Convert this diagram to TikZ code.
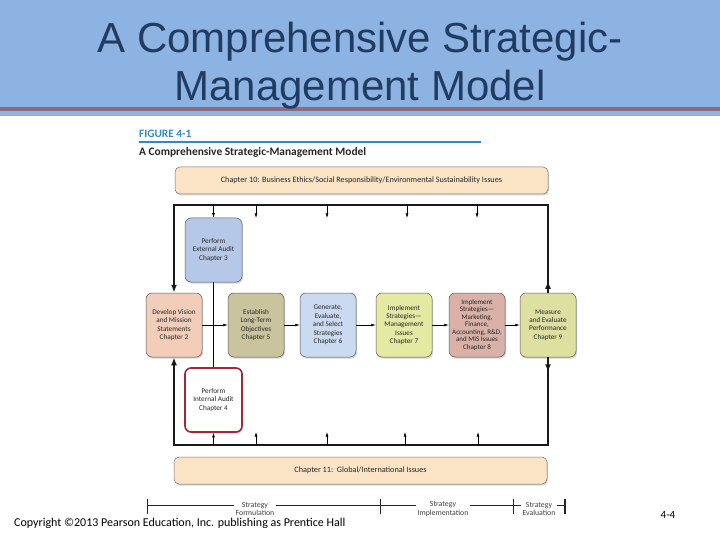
\documentclass[tikz,border=0pt]{standalone}
\usepackage{fontspec}
\setmainfont{Carlito}
\newfontfamily\titlefont{Liberation Sans}
\usetikzlibrary{arrows.meta,shadows}
\definecolor{hdrblue}{HTML}{8DB3E2}
\definecolor{mauve}{HTML}{8E6B80}
\definecolor{titleblue}{HTML}{203C62}
\definecolor{figblue}{HTML}{2F8AC4}
\definecolor{peach}{HTML}{FBE3C6}
\definecolor{cext}{HTML}{B6C8E8}
\definecolor{cvis}{HTML}{F2CDBA}
\definecolor{cobj}{HTML}{C9C49E}
\definecolor{cgen}{HTML}{C9DAF1}
\definecolor{cimg}{HTML}{E5EAA3}
\definecolor{cimk}{HTML}{D9B1A7}
\definecolor{cmea}{HTML}{DDE0A1}
\definecolor{cint}{HTML}{A3253C}
\tikzset{
  box/.style={draw=black!65, line width=0.5pt, rounded corners=6pt,
    minimum width=56pt, minimum height=64pt, inner sep=1pt, align=center,
    font=\fontsize{7.2}{8.4}\selectfont, text=black!85,
    drop shadow={shadow xshift=1pt, shadow yshift=-1.5pt, opacity=0.35}},
  bar/.style={draw=black!55, line width=0.5pt, rounded corners=5pt, fill=peach,
    minimum width=373pt, minimum height=27pt, font=\fontsize{8.2}{9}\selectfont,
    text=black!85, drop shadow={shadow xshift=1pt, shadow yshift=-1.5pt, opacity=0.35}},
  loopline/.style={line width=2pt, black!90},
  bigtip/.style={-{Latex[length=8pt,width=6pt]}},
  thinarrow/.style={line width=0.6pt, -{Latex[length=4.5pt,width=2.8pt]}},
  flowarrow/.style={line width=0.7pt, -{Latex[length=4.5pt,width=3pt]}},
  phase/.style={fill=white, inner sep=1.5pt, align=center, text=black!75,
    font=\fontsize{7.8}{8.4}\selectfont},
}
\begin{document}
\begin{tikzpicture}[x=1pt,y=-1pt]
\useasboundingbox (0,0) rectangle (720,540);
% header
\fill[hdrblue] (0,0) rectangle (720,116);
\fill[mauve] (0,107) rectangle (720,111);
\node[anchor=base, font=\titlefont\fontsize{42}{42}\selectfont, text=titleblue] (t1) at (360,53) {A Comprehensive Strategic-};
\node[anchor=base, font=\titlefont\fontsize{42}{42}\selectfont, text=titleblue] (t2) at (360,101) {Management Model};
% figure caption
\node[anchor=base west, inner sep=0, font=\bfseries\fontsize{11.3}{12}\selectfont, text=figblue] (fig) at (139,137.5) {FIGURE 4-1};
\fill[figblue] (139,141) rectangle (481,143.5);
\node[anchor=base west, inner sep=0, font=\bfseries\fontsize{11.4}{12}\selectfont, text=black!85] (cap) at (139,156) {A Comprehensive Strategic-Management Model};
% bars
\node[bar] (ch10) at (361.5,180.5) {Chapter 10: Business Ethics/Social Responsibility/Environmental Sustainability Issues};
\node[bar] (ch11) at (360.5,470.5) {Chapter 11:\ \ Global/International Issues};
% boxes
\node[box, fill=cext, minimum width=57pt] (ext) at (213.5,250) {Perform\\External Audit\\Chapter 3};
\node[box, fill=cvis] (vis) at (174,325) {Develop Vision\\and Mission\\Statements\\Chapter 2};
\node[box, fill=cobj] (obj) at (256,325) {Establish\\Long-Term\\Objectives\\Chapter 5};
\node[box, fill=cgen] (gen) at (328,325) {Generate,\\Evaluate,\\and Select\\Strategies\\Chapter 6};
\node[box, fill=cimg] (img) at (404,325) {Implement\\Strategies---\\Management\\Issues\\Chapter 7};
\node[box, fill=cimk, inner sep=0pt, font=\fontsize{7}{7.5}\selectfont] (imk) at (477,325) {Implement\\Strategies---\\Marketing,\\Finance,\\Accounting, R\&D,\\and MIS Issues\\Chapter 8};
\node[box, fill=cmea] (mea) at (548,325) {Measure\\and Evaluate\\Performance\\Chapter 9};
\node[box, fill=white, draw=cint, line width=1.6pt, minimum width=57pt] (int) at (213.5,400) {Perform\\Internal Audit\\Chapter 4};
% loop corners
\coordinate (tr) at (548,205);
\coordinate (tl) at (174,205);
\coordinate (br) at (548,445);
\coordinate (bl) at (174,445);
\draw[loopline, bigtip] (mea.north) -- (tr) -- (tl) -- (vis.north);
\draw[loopline, bigtip] (mea.north) -- ([yshift=12pt]mea.north);
\draw[loopline, bigtip] (mea.south) -- (br) -- (bl) -- (vis.south);
\draw[loopline, bigtip] (mea.south) -- ([yshift=-15pt]mea.south);
% small arrows from top line
\coordinate (a1) at (256,205); \coordinate (a1e) at (256,218);
\coordinate (a2) at (327,205); \coordinate (a2e) at (327,218);
\coordinate (a3) at (407,205); \coordinate (a3e) at (407,218);
\coordinate (a4) at (477,205); \coordinate (a4e) at (477,218);
\coordinate (a0) at (213.5,205);
\draw[thinarrow] (a0) -- (ext.north);
\draw[thinarrow] (a1) -- (a1e);
\draw[thinarrow] (a2) -- (a2e);
\draw[thinarrow] (a3) -- (a3e);
\draw[thinarrow] (a4) -- (a4e);
% small arrows from bottom line
\coordinate (b0) at (213.5,445);
\coordinate (b1) at (256,445); \coordinate (b1e) at (256,432);
\coordinate (b2) at (327,445); \coordinate (b2e) at (327,432);
\coordinate (b3) at (405,445); \coordinate (b3e) at (405,432);
\coordinate (b4) at (478,445); \coordinate (b4e) at (478,432);
\draw[thinarrow] (b0) -- (int.south);
\draw[thinarrow] (b1) -- (b1e);
\draw[thinarrow] (b2) -- (b2e);
\draw[thinarrow] (b3) -- (b3e);
\draw[thinarrow] (b4) -- (b4e);
% audits link
\draw[line width=0.7pt] (ext.south) -- (int.north);
% flow arrows
\draw[flowarrow] (vis.east) -- (obj.west);
\draw[flowarrow] (obj.east) -- (gen.west);
\draw[flowarrow] (gen.east) -- (img.west);
\draw[flowarrow] (img.east) -- (imk.west);
\draw[flowarrow] (imk.east) -- (mea.west);
% phases timeline
\coordinate (p0) at (147,505); \coordinate (p1) at (380,505);
\coordinate (p2) at (513,505); \coordinate (p3) at (565,505);
\draw[line width=0.7pt, black!85] (p0) -- (p3);
\draw[line width=0.7pt, black!85] ([yshift=6pt]p0) -- ([yshift=-9pt]p0);
\draw[line width=0.7pt, black!85] ([yshift=6pt]p1) -- ([yshift=-9pt]p1);
\draw[line width=0.7pt, black!85] ([yshift=6pt]p2) -- ([yshift=-9pt]p2);
\draw[line width=1.6pt, black!85] ([yshift=6pt]p3) -- ([yshift=-9pt]p3);
\node[phase] (f1) at (255,509) {Strategy\\Formulation};
\node[phase] (f2) at (443,509) {Strategy\\Implementation};
\node[phase] (f3) at (539,509) {Strategy\\Evaluation};
% footer
\node[anchor=base west, inner sep=0, font=\fontsize{12}{12}\selectfont] (copy) at (14,526) {Copyright ©2013 Pearson Education, Inc. publishing as Prentice Hall};
\node[anchor=base, inner sep=0, font=\fontsize{11}{12}\selectfont] (pg) at (668,518) {4-4};
\end{tikzpicture}
\end{document}
